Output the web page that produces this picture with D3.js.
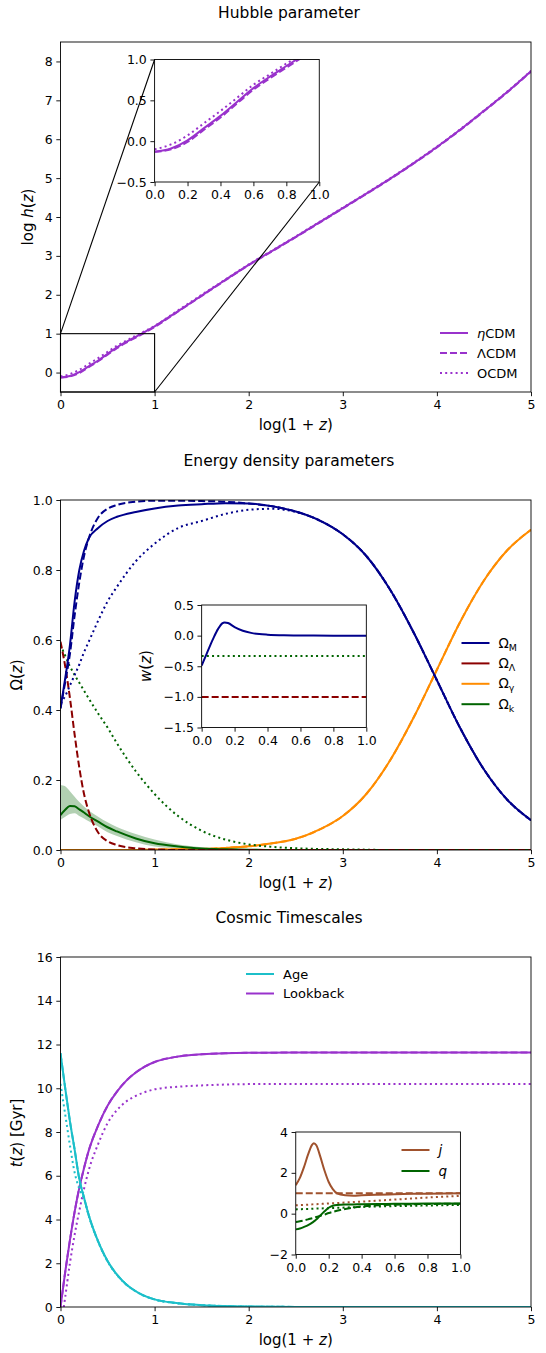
<!DOCTYPE html>
<html>
<head>
<meta charset="utf-8">
<script src="https://cdn.jsdelivr.net/npm/d3@7"></script>
<style>
  body { margin: 0; background: #fff; }
  text { font-family: "DejaVu Sans", sans-serif; }
</style>
</head>
<body>
<div id="chart"></div>
<script>
// ---- Hubble parameter: log h(z) vs log(1+z)
const hubX   = [0, 0.1, 0.2, 0.3, 0.4, 0.5, 0.6, 0.7, 0.8, 0.9, 1.0, 1.25, 1.5, 1.75, 2, 2.25, 2.5, 2.75, 3, 3.25, 3.5, 3.75, 4, 4.25, 4.5, 4.75, 5];
const hubEta = [-0.13, -0.09, 0.01, 0.16, 0.31, 0.48, 0.65, 0.79, 0.92, 1.05, 1.19, 1.58, 1.98, 2.38, 2.77, 3.13, 3.49, 3.86, 4.23, 4.60, 4.98, 5.38, 5.80, 6.25, 6.73, 7.22, 7.75];
const hubLam = [-0.13, -0.10, -0.01, 0.14, 0.29, 0.46, 0.63, 0.77, 0.90, 1.03, 1.17, 1.57, 1.97, 2.37, 2.76, 3.12, 3.48, 3.85, 4.22, 4.59, 4.97, 5.37, 5.79, 6.24, 6.72, 7.21, 7.74];
const hubO   = [-0.10, -0.04, 0.07, 0.22, 0.37, 0.53, 0.69, 0.82, 0.95, 1.07, 1.20, 1.60, 2.00, 2.39, 2.78, 3.14, 3.50, 3.87, 4.24, 4.61, 4.99, 5.39, 5.81, 6.26, 6.74, 7.23, 7.76];
const hubLegend = ["ηCDM", "ΛCDM", "OCDM"];

// ---- Energy density parameters
const omX    = [0, 0.05, 0.1, 0.15, 0.2, 0.25, 0.3, 0.4, 0.5, 0.6, 0.8, 1, 1.25, 1.5, 1.75, 2, 2.25, 2.5, 2.75, 3, 3.25, 3.5, 3.75, 4, 4.25, 4.5, 4.75, 5];
const omM    = [0.405, 0.49, 0.585, 0.71, 0.80, 0.855, 0.89, 0.92, 0.94, 0.952, 0.966, 0.976, 0.984, 0.988, 0.991, 0.99, 0.982, 0.967, 0.942, 0.902, 0.84, 0.745, 0.623, 0.485, 0.347, 0.23, 0.143, 0.085];
const omMLam = [0.405, 0.48, 0.56, 0.67, 0.765, 0.84, 0.89, 0.95, 0.975, 0.986, 0.995, 0.998, 0.998, 0.997, 0.995, 0.99, 0.982, 0.967, 0.942, 0.902, 0.84, 0.745, 0.623, 0.485, 0.347, 0.23, 0.143, 0.085];
const omMO   = [0.42, 0.44, 0.47, 0.50, 0.53, 0.565, 0.595, 0.655, 0.71, 0.752, 0.825, 0.875, 0.92, 0.94, 0.96, 0.972, 0.975, 0.966, 0.942, 0.902, 0.84, 0.745, 0.623, 0.485, 0.347, 0.23, 0.143, 0.085];
const omL    = [0.595, 0.525, 0.435, 0.33, 0.235, 0.16, 0.11, 0.05, 0.025, 0.014, 0.005, 0.0015, 0, 0, 0, 0, 0, 0, 0, 0, 0, 0, 0, 0, 0, 0, 0, 0];
const omG    = [0, 0, 0, 0, 0, 0, 0, 0, 0, 0, 0, 0.001, 0.002, 0.003, 0.006, 0.0105, 0.019, 0.032, 0.058, 0.097, 0.16, 0.255, 0.377, 0.515, 0.653, 0.77, 0.857, 0.915];
const omK    = [0.1, 0.115, 0.126, 0.125, 0.116, 0.107, 0.097, 0.081, 0.065, 0.053, 0.033, 0.019, 0.01, 0.004, 0.002, 0.001, 0, 0, 0, 0, 0, 0, 0, 0, 0, 0, 0, 0];
const omKHi  = [0.186, 0.182, 0.168, 0.152, 0.137, 0.124, 0.113, 0.095, 0.079, 0.066, 0.046, 0.03, 0.016, 0.008, 0.004, 0.002, 0, 0, 0, 0, 0, 0, 0, 0, 0, 0, 0, 0];
const omKLo  = [0.086, 0.095, 0.103, 0.105, 0.097, 0.09, 0.082, 0.067, 0.051, 0.04, 0.022, 0.01, 0.005, 0.002, 0.001, 0, 0, 0, 0, 0, 0, 0, 0, 0, 0, 0, 0, 0];
const omKO   = [0.586, 0.555, 0.525, 0.50, 0.478, 0.455, 0.433, 0.39, 0.35, 0.305, 0.225, 0.16, 0.097, 0.055, 0.03, 0.016, 0.009, 0.005, 0.003, 0.002, 0.001, 0, 0, 0, 0, 0, 0, 0];
const omZero = omX.map(() => 0);
// inset: equation of state
const wX     = [0, 0.025, 0.05, 0.075, 0.1, 0.125, 0.14, 0.16, 0.2, 0.25, 0.3, 0.35, 0.4, 0.5, 0.6, 0.8, 1.0];
const wEta   = [-0.49, -0.33, -0.17, -0.02, 0.11, 0.2, 0.215, 0.205, 0.14, 0.08, 0.045, 0.025, 0.015, 0.005, 0.002, 0, 0];
const wK     = [-1/3, -1/3];
const wL     = [-1, -1];
const wFlatX = [0, 1];

// ---- Cosmic timescales (Gyr)
const tX     = [0, 0.05, 0.1, 0.15, 0.2, 0.25, 0.3, 0.4, 0.5, 0.6, 0.7, 0.8, 0.9, 1, 1.25, 1.5, 1.75, 2, 2.5, 3, 4, 5];
const age    = [11.6, 10.0, 8.5, 7.2, 5.85, 5.0, 4.2, 3.0, 2.1, 1.48, 1.03, 0.72, 0.5, 0.35, 0.17, 0.085, 0.042, 0.02, 0.005, 0, 0, 0];
const ageO   = [10.2, 8.8, 7.4, 6.15, 5.4, 4.95, 4.18, 2.98, 2.08, 1.46, 1.02, 0.71, 0.49, 0.34, 0.165, 0.08, 0.04, 0.018, 0.004, 0, 0, 0];
const lookb  = [0, 1.6, 3.05, 4.35, 5.45, 6.35, 7.15, 8.3, 9.2, 9.85, 10.35, 10.72, 11.0, 11.2, 11.45, 11.55, 11.6, 11.62, 11.63, 11.63, 11.63, 11.63];
const lbOX   = [0.035, 0.05, 0.1, 0.15, 0.2, 0.25, 0.3, 0.4, 0.5, 0.6, 0.7, 0.8, 0.9, 1, 1.25, 1.5, 1.75, 2, 2.5, 3, 4, 5];
const lookbO = [0, 0.45, 2.0, 3.3, 4.4, 5.4, 6.25, 7.45, 8.4, 9.0, 9.4, 9.65, 9.83, 9.95, 10.07, 10.13, 10.17, 10.19, 10.2, 10.2, 10.2, 10.2];
// inset: jerk and deceleration
const jqX    = [0, 0.025, 0.05, 0.075, 0.1, 0.11, 0.125, 0.15, 0.175, 0.2, 0.225, 0.25, 0.3, 0.35, 0.4, 0.5, 0.6, 0.7, 0.8, 1.0];
const jEta   = [1.4, 1.75, 2.28, 2.9, 3.38, 3.45, 3.35, 2.77, 2.1, 1.55, 1.2, 1.0, 0.9, 0.88, 0.9, 0.93, 0.95, 0.97, 0.98, 1.0];
const jLam   = jqX.map(() => 1.0);
const jO     = [0.41, 0.42, 0.43, 0.44, 0.455, 0.46, 0.465, 0.475, 0.49, 0.50, 0.51, 0.52, 0.545, 0.57, 0.59, 0.64, 0.69, 0.74, 0.79, 0.87];
const qEta   = [-0.77, -0.73, -0.65, -0.56, -0.44, -0.38, -0.29, -0.08, 0.12, 0.29, 0.39, 0.43, 0.45, 0.455, 0.46, 0.47, 0.48, 0.49, 0.495, 0.5];
const qLam   = [-0.41, -0.37, -0.33, -0.28, -0.22, -0.2, -0.16, -0.1, -0.04, 0.03, 0.09, 0.14, 0.23, 0.3, 0.35, 0.41, 0.44, 0.46, 0.475, 0.49];
const qO     = [0.21, 0.22, 0.225, 0.23, 0.24, 0.245, 0.25, 0.255, 0.262, 0.27, 0.277, 0.285, 0.30, 0.315, 0.33, 0.35, 0.37, 0.385, 0.40, 0.43];

const purple = "#9932cc", navy = "#00008b", dred = "#8b0000", orange = "#ff8c00",
      dgreen = "#006400", cyan = "#1cbfc9", brown = "#a0522d";
const LW = 2;
const DASH = "7,3", DOT = "2,3.2";
const TICK = "12.5px", TITLE = 15.5, LAB = 15;

const svg = d3.select("#chart").append("svg")
    .attr("width", 546)
    .attr("height", 1353)
    .style("background", "#fff");
const defs = svg.append("defs");

const fInt = d3.format("d");
const f1 = d3.format(".1f");

// build an axes box with ticks, frame and clipped plotting group
function makeAxes(o) {
    const x = d3.scaleLinear().domain(o.xd).range([o.left, o.left + o.w]);
    const y = d3.scaleLinear().domain(o.yd).range([o.top + o.h, o.top]);
    const g = svg.append("g");
    g.append("rect")
        .attr("x", o.left).attr("y", o.top)
        .attr("width", o.w).attr("height", o.h)
        .attr("fill", "#fff");
    defs.append("clipPath").attr("id", o.id)
        .append("rect")
        .attr("x", o.left).attr("y", o.top)
        .attr("width", o.w).attr("height", o.h);
    const plot = g.append("g").attr("clip-path", `url(#${o.id})`);
    const frame = g.append("g");

    const xa = frame.append("g")
        .attr("transform", `translate(0,${o.top + o.h})`)
        .call(d3.axisBottom(x).tickValues(o.xt).tickFormat(o.fx).tickSize(4.2).tickPadding(4.2));
    const ya = frame.append("g")
        .attr("transform", `translate(${o.left},0)`)
        .call(d3.axisLeft(y).tickValues(o.yt).tickFormat(o.fy).tickSize(4.2).tickPadding(3.6));
    [xa, ya].forEach(a => {
        a.select(".domain").remove();
        a.attr("font-family", null).attr("font-size", null);
        a.selectAll("line").attr("stroke", "#000").attr("stroke-width", 0.9);
        a.selectAll("text").attr("fill", "#000").style("font-size", TICK);
    });
    frame.append("rect")
        .attr("x", o.left).attr("y", o.top)
        .attr("width", o.w).attr("height", o.h)
        .attr("fill", "none")
        .attr("stroke", "#000")
        .attr("stroke-width", 0.9);
    return {x, y, g, plot, frame};
}

function addLine(ax, xs, ys, color, dash) {
    ax.plot.append("path")
        .datum(xs.map((v, i) => [v, ys[i]]))
        .attr("d", d3.line().x(d => ax.x(d[0])).y(d => ax.y(d[1])).curve(d3.curveMonotoneX))
        .attr("fill", "none")
        .attr("stroke", color)
        .attr("stroke-width", LW)
        .attr("stroke-dasharray", dash || null);
}

// text with italic / subscript pieces, e.g. ["log(1 + ", ["z","i"], ")"]
function mtext(parent, x, y, parts, size, anchor, rotate) {
    const t = parent.append("text")
        .attr("x", x).attr("y", y)
        .attr("font-size", size)
        .attr("fill", "#000")
        .attr("text-anchor", anchor || "start");
    if (rotate) t.attr("transform", `rotate(-90,${x},${y})`).attr("dominant-baseline", "central");
    parts.forEach(p => {
        const s = typeof p === "string" ? p : p[0];
        const st = typeof p === "string" ? "" : p[1];
        const ts = t.append("tspan").text(s);
        if (st.includes("i")) ts.attr("font-style", "italic");
        if (st.includes("s")) ts.attr("font-size", size * 0.7).attr("dy", size * 0.22);
    });
    return t;
}

function legend(parent, x0, y0, step, items, size) {
    items.forEach((it, i) => {
        const yy = y0 + i * step;
        parent.append("line")
            .attr("x1", x0).attr("x2", x0 + 28)
            .attr("y1", yy).attr("y2", yy)
            .attr("stroke", it.color)
            .attr("stroke-width", LW)
            .attr("stroke-dasharray", it.dash || null);
        mtext(parent, x0 + 37, yy + 4.6, it.label, size);
    });
}

const L = 60.5, W = 470.5, H = 350;
const xLabel = ["log(1 + ", ["z", "i"], ")"];

// ================= Panel 1: Hubble parameter =================
const a1 = makeAxes({left: L, top: 42, w: W, h: H, xd: [0, 5], yd: [-0.5, 8.5],
    xt: [0, 1, 2, 3, 4, 5], yt: [0, 1, 2, 3, 4, 5, 6, 7, 8], fx: fInt, fy: fInt, id: "c1"});
addLine(a1, hubX, hubEta, purple);
addLine(a1, hubX, hubLam, purple, DASH);
addLine(a1, hubX, hubO, purple, DOT);

// zoom indicator rectangle and connectors
a1.frame.append("rect")
    .attr("x", a1.x(0)).attr("y", a1.y(1))
    .attr("width", a1.x(1) - a1.x(0)).attr("height", a1.y(-0.5) - a1.y(1))
    .attr("fill", "none").attr("stroke", "#000").attr("stroke-width", 1.1);

const i1 = makeAxes({left: L + 0.2 * W, top: 42 + 0.05 * H, w: 0.35 * W, h: 0.35 * H, xd: [0, 1], yd: [-0.5, 1],
    xt: [0, 0.2, 0.4, 0.6, 0.8, 1], yt: [-0.5, 0, 0.5, 1], fx: f1, fy: f1, id: "ci1"});
addLine(i1, hubX, hubEta, purple);
addLine(i1, hubX, hubLam, purple, DASH);
addLine(i1, hubX, hubO, purple, DOT);

svg.append("line")
    .attr("x1", a1.x(0)).attr("y1", a1.y(1))
    .attr("x2", i1.x(0)).attr("y2", i1.y(1))
    .attr("stroke", "#000").attr("stroke-width", 1.1);
svg.append("line")
    .attr("x1", a1.x(1)).attr("y1", a1.y(-0.5))
    .attr("x2", i1.x(1)).attr("y2", i1.y(-0.5))
    .attr("stroke", "#000").attr("stroke-width", 1.1);

legend(svg, 440, 333, 20, [
    {label: [["η", "i"], "CDM"], color: purple},
    {label: [hubLegend[1]], color: purple, dash: DASH},
    {label: [hubLegend[2]], color: purple, dash: DOT}
], 13);

mtext(svg, 289, 17.5, ["Hubble parameter"], TITLE, "middle");
mtext(svg, 295.7, 430, xLabel, LAB, "middle");
mtext(svg, 28, 217, ["log ", ["h", "i"], "(", ["z", "i"], ")"], LAB, "middle", true);

// ================= Panel 2: Energy density parameters =================
const a2 = makeAxes({left: L, top: 500, w: W, h: H, xd: [0, 5], yd: [0, 1],
    xt: [0, 1, 2, 3, 4, 5], yt: [0, 0.2, 0.4, 0.6, 0.8, 1], fx: fInt, fy: f1, id: "c2"});

a2.plot.append("path")
    .datum(omX.map((v, i) => [v, omKLo[i], omKHi[i]]))
    .attr("d", d3.area().x(d => a2.x(d[0])).y0(d => a2.y(d[1])).y1(d => a2.y(d[2])).curve(d3.curveMonotoneX))
    .attr("fill", dgreen)
    .attr("fill-opacity", 0.3);

addLine(a2, omX, omZero, dgreen, DASH);
addLine(a2, omX, omG, orange, DASH);
addLine(a2, omX, omG, orange);
addLine(a2, omX, omKO, dgreen, DOT);
addLine(a2, omX, omK, dgreen);
addLine(a2, omX, omL, dred, DASH);
addLine(a2, omX, omMO, navy, DOT);
addLine(a2, omX, omMLam, navy, DASH);
addLine(a2, omX, omM, navy);

const i2 = makeAxes({left: L + 0.3 * W, top: 500 + 0.3 * H, w: 0.35 * W, h: 0.35 * H, xd: [0, 1], yd: [-1.5, 0.5],
    xt: [0, 0.2, 0.4, 0.6, 0.8, 1], yt: [-1.5, -1, -0.5, 0, 0.5], fx: f1, fy: f1, id: "ci2"});
addLine(i2, wFlatX, wK, dgreen, DOT);
addLine(i2, wFlatX, wL, dred, DASH);
addLine(i2, wX, wEta, navy);

legend(svg, 461.5, 643, 20.4, [
    {label: ["Ω", ["M", "s"]], color: navy},
    {label: ["Ω", ["Λ", "s"]], color: dred},
    {label: ["Ω", ["γ", "s"]], color: orange},
    {label: ["Ω", ["k", "s"]], color: dgreen}
], 13.5);

mtext(svg, 289, 466, ["Energy density parameters"], TITLE, "middle");
mtext(svg, 295.7, 888, xLabel, LAB, "middle");
mtext(svg, 16.5, 675, ["Ω(", ["z", "i"], ")"], LAB, "middle", true);
mtext(svg, 145.5, 666, [["w", "i"], "(", ["z", "i"], ")"], LAB, "middle", true);

// ================= Panel 3: Cosmic Timescales =================
const a3 = makeAxes({left: L, top: 957, w: W, h: H, xd: [0, 5], yd: [0, 16],
    xt: [0, 1, 2, 3, 4, 5], yt: [0, 2, 4, 6, 8, 10, 12, 14, 16], fx: fInt, fy: fInt, id: "c3"});
addLine(a3, lbOX, lookbO, purple, DOT);
addLine(a3, tX, lookb, purple, DASH);
addLine(a3, tX, lookb, purple);
addLine(a3, tX, ageO, cyan, DOT);
addLine(a3, tX, age, cyan, DASH);
addLine(a3, tX, age, cyan);

const i3 = makeAxes({left: L + 0.5 * W, top: 957 + 0.5 * H, w: 0.35 * W, h: 0.35 * H, xd: [0, 1], yd: [-2, 4],
    xt: [0, 0.2, 0.4, 0.6, 0.8, 1], yt: [-2, 0, 2, 4], fx: f1, fy: fInt, id: "ci3"});
addLine(i3, jqX, jLam, brown, DASH);
addLine(i3, jqX, jO, brown, DOT);
addLine(i3, jqX, jEta, brown);
addLine(i3, jqX, qLam, dgreen, DASH);
addLine(i3, jqX, qO, dgreen, DOT);
addLine(i3, jqX, qEta, dgreen);

legend(svg, 246, 974, 19.5, [
    {label: ["Age"], color: cyan},
    {label: ["Lookback"], color: purple}
], 13);
legend(svg, 401.5, 1150, 21, [
    {label: [["j", "i"]], color: brown},
    {label: [["q", "i"]], color: dgreen}
], 13.5);

mtext(svg, 289, 922.5, ["Cosmic Timescales"], TITLE, "middle");
mtext(svg, 295.7, 1345, xLabel, LAB, "middle");
mtext(svg, 17, 1133, [["t", "i"], "(", ["z", "i"], ") [Gyr]"], LAB, "middle", true);
</script>
</body>
</html>
